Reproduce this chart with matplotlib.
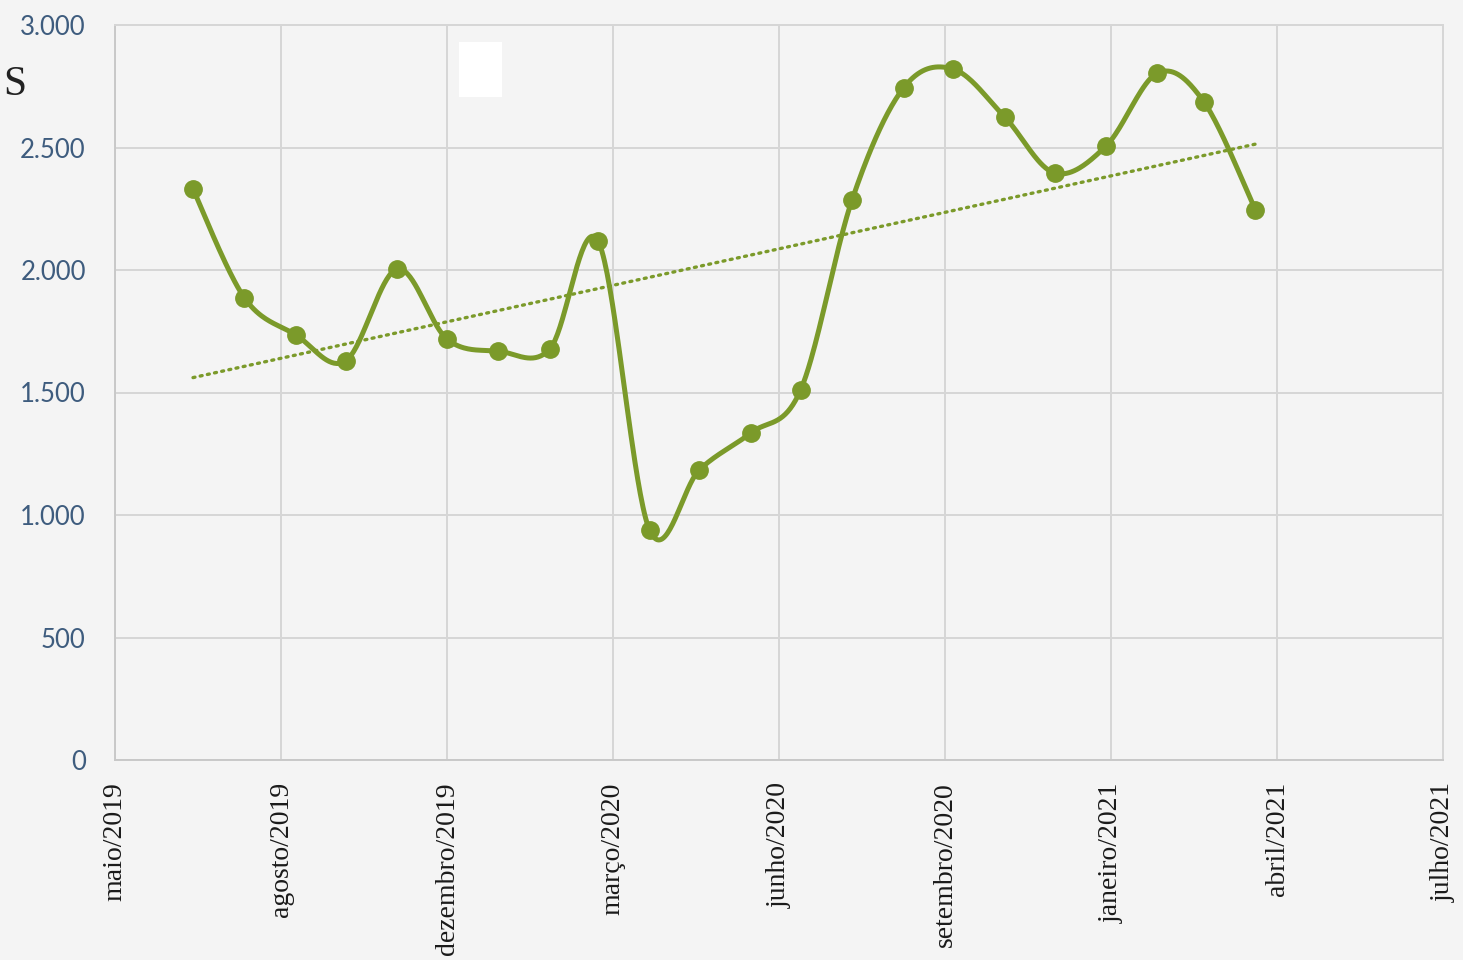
import numpy as np
import matplotlib
matplotlib.use("Agg")
import matplotlib.pyplot as plt
import matplotlib.dates as mdates
from matplotlib.patches import Rectangle
import datetime as dt

# ---- data ----
months = [dt.date(2019 + (6 + i) // 12, (6 + i) % 12 + 1, 1) for i in range(22)]
values = [2330, 1886, 1735, 1629, 2004, 1718, 1669, 1678, 2118, 939, 1184, 1335,
          1510, 2286, 2743, 2820, 2624, 2396, 2506, 2804, 2686, 2245]
tick_labels = ["maio/2019", "agosto/2019", "dezembro/2019", "março/2020", "junho/2020",
               "setembro/2020", "janeiro/2021", "abril/2021", "julho/2021"]
y_ticks = [0, 500, 1000, 1500, 2000, 2500, 3000]
y_tick_labels = ["0", "500", "1.000", "1.500", "2.000", "2.500", "3.000"]
axis_start = dt.date(2019, 5, 15)
tick_step_days = 100

color = "#7b9a2a"
bg = "#f4f4f4"

W, H = 1463, 960
fig = plt.figure(figsize=(W / 100, H / 100), dpi=100, facecolor=bg)
ax = fig.add_axes([115 / W, 1 - 760 / H, (1443 - 115) / W, (760 - 25) / H])
ax.set_facecolor(bg)

x = mdates.date2num(months)
y = np.array(values, dtype=float)
x0 = mdates.date2num(axis_start)
xticks = x0 + tick_step_days * np.arange(len(tick_labels))

# smoothed line (Catmull-Rom style Bezier, like Excel's smoothing)
def smooth(xs, ys, n=40):
    px, py = [], []
    N = len(xs)
    for i in range(N - 1):
        p0 = (xs[max(i - 1, 0)], ys[max(i - 1, 0)])
        p1 = (xs[i], ys[i])
        p2 = (xs[i + 1], ys[i + 1])
        p3 = (xs[min(i + 2, N - 1)], ys[min(i + 2, N - 1)])
        c1 = (p1[0] + (p2[0] - p0[0]) / 6, p1[1] + (p2[1] - p0[1]) / 6)
        c2 = (p2[0] - (p3[0] - p1[0]) / 6, p2[1] - (p3[1] - p1[1]) / 6)
        t = np.linspace(0, 1, n)
        bx = (1 - t) ** 3 * p1[0] + 3 * (1 - t) ** 2 * t * c1[0] + 3 * (1 - t) * t ** 2 * c2[0] + t ** 3 * p2[0]
        by = (1 - t) ** 3 * p1[1] + 3 * (1 - t) ** 2 * t * c1[1] + 3 * (1 - t) * t ** 2 * c2[1] + t ** 3 * p2[1]
        px.extend(bx); py.extend(by)
    return np.array(px), np.array(py)

sx, sy = smooth(x, y)
ax.plot(sx, sy, color=color, lw=3.6, solid_capstyle="round", zorder=3)
ax.plot(x, y, "o", color=color, ms=12.5, zorder=4)

# linear trendline
coef = np.polyfit(x, y, 1)
tx = np.array([x[0], x[-1]])
ax.plot(tx, np.polyval(coef, tx), color=color, lw=2.4, linestyle=(0, (0.6, 1.6)),
        dash_capstyle="round", zorder=2)

ax.set_xlim(xticks[0], xticks[-1])
ax.set_ylim(0, 3000)
ax.set_xticks(xticks)
ax.set_xticklabels(tick_labels, rotation=90, family="Liberation Serif", fontsize=20,
                   color="#1a1a1a", va="top", ha="center")
ax.set_yticks(y_ticks)
ax.set_yticklabels(y_tick_labels, family="Lato", fontsize=18.5, color="#3e5c7e")
ax.tick_params(axis="both", length=0)
ax.tick_params(axis="y", pad=21)
ax.tick_params(axis="x", pad=16)
ax.grid(True, color="#d6d6d6", lw=1.4)
ax.set_axisbelow(True)
for s in ax.spines.values():
    s.set_color("#c8c8c8")
    s.set_linewidth(1.4)
ax.spines["top"].set_color("#d6d6d6")
ax.spines["right"].set_color("#d6d6d6")

# partial title fragment and white box
fig.text(26 / W, 1 - 85 / H, "S", family="Liberation Serif", fontsize=30,
         color="#222222", ha="right", va="center")
fig.patches.append(Rectangle((459 / W, 1 - 97 / H), 43 / W, 55 / H,
                             transform=fig.transFigure, facecolor="white",
                             edgecolor="none", zorder=1))

fig.savefig("out.png", dpi=100, facecolor=bg)
